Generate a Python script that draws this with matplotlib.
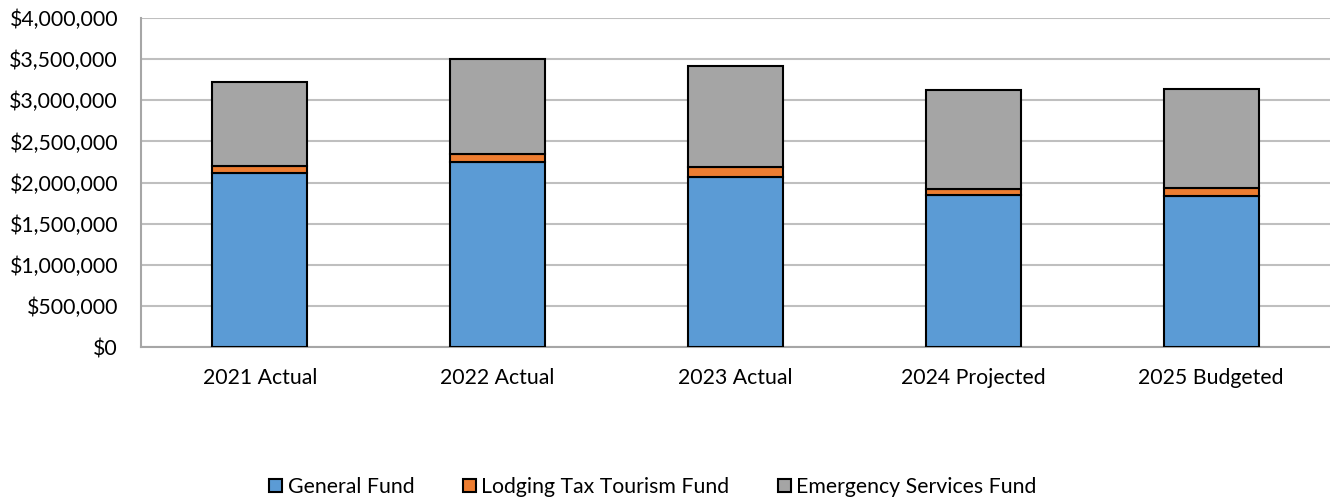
import numpy as np
import matplotlib
matplotlib.use("Agg")
import matplotlib.pyplot as plt
from matplotlib.ticker import FuncFormatter

# data
years = ["2021 Actual", "2022 Actual", "2023 Actual", "2024 Projected", "2025 Budgeted"]
general_fund = [2115000, 2250000, 2073000, 1846000, 1838000]
lodging_fund = [85000, 95000, 117000, 76000, 96000]
emergency_fund = [1020000, 1155000, 1228000, 1205000, 1200000]

plt.rcParams['font.family'] = ['Lato', 'DejaVu Sans']

fig = plt.figure(figsize=(13.3, 5.01), dpi=100)
ax = fig.add_axes([0.106, 0.307, 0.894, 0.657])

x = np.arange(len(years))
w = 0.4
gen = np.array(general_fund)
lod = np.array(lodging_fund)
eme = np.array(emergency_fund)

ax.bar(x, gen, w, color="#5B9BD5", edgecolor="black", linewidth=1.5, label="General Fund", zorder=3)
ax.bar(x, lod, w, bottom=gen, color="#ED7D31", edgecolor="black", linewidth=1.5,
       label="Lodging Tax Tourism Fund", zorder=3)
ax.bar(x, eme, w, bottom=gen + lod, color="#A5A5A5", edgecolor="black", linewidth=1.5,
       label="Emergency Services Fund", zorder=3)

ax.set_xlim(-0.5, len(years) - 0.5)
ax.set_ylim(0, 4000000)
ax.set_yticks(np.arange(0, 4000001, 500000))
ax.yaxis.set_major_formatter(FuncFormatter(lambda v, p: "${:,.0f}".format(v)))
ax.set_xticks(x)
ax.set_xticklabels(years)
ax.tick_params(axis="both", length=0, labelsize=15.3, colors="black")
ax.tick_params(axis="x", pad=15)
ax.tick_params(axis="y", pad=16.5)

ax.grid(axis="y", color="#BFBFBF", linewidth=1.5, zorder=0)
for s in ["top", "right"]:
    ax.spines[s].set_visible(False)
ax.spines["left"].set_color("#A6A6A6")
ax.spines["left"].set_linewidth(1.5)
ax.spines["bottom"].set_color("#A6A6A6")
ax.spines["bottom"].set_linewidth(1.5)

fig.legend(loc="center", bbox_to_anchor=(0.491, 0.028), ncol=3, frameon=False,
           fontsize=15.3, handlelength=0.6, handleheight=0.6, handletextpad=0.25,
           columnspacing=2.3)

fig.savefig("out.png", dpi=100)
